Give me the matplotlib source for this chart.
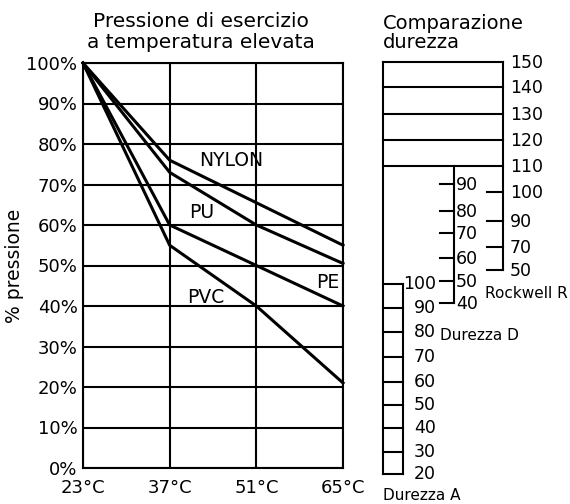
import matplotlib
matplotlib.use("Agg")
import matplotlib.pyplot as plt

plt.rcParams['font.family'] = ['DejaVu Sans']

# pressure derating vs temperature
temps = [23, 37, 51, 65]
temp_labels = ['23°C', '37°C', '51°C', '65°C']
nylon = [100, 76, 65.5, 55]
pu = [100, 73, 60, 50.5]
pe = [100, 60, 50, 40]
pvc = [100, 55, 40, 21]
pct_ticks = list(range(0, 101, 10))

# curve labels: (text, temp, pressure)
curve_labels = [('NYLON', 47.0, 76.0), ('PU', 42.2, 63.0),
                ('PE', 62.6, 45.8), ('PVC', 42.9, 42.0)]

# hardness comparison scales
rockwell_r = [150, 140, 130, 120, 110, 100, 90, 70, 50]
durezza_d = [90, 80, 70, 60, 50, 40]
durezza_a = [100, 90, 80, 70, 60, 50, 40, 30, 20]

# vertical layout of the hardness scales (figure pixels from top)
r_pos = [62, 87, 114, 140, 166, 192, 221, 247, 270]
d_pos = [184, 211, 233, 258, 281, 303]
a_pos = [284, 308, 332, 357, 382, 405, 428, 452, 474]

W, H = 570, 504
fig = plt.figure(figsize=(W / 100, H / 100), dpi=100)

ax = fig.add_axes([83 / W, 1 - 468 / H, 260 / W, 405 / H])
for series in (nylon, pu, pe, pvc):
    ax.plot(temps, series, color='black', lw=2.2, solid_joinstyle='miter', clip_on=False)
for txt, tx, ty in curve_labels:
    ax.text(tx, ty, txt, ha='center', va='center', fontsize=13.5)

ax.set_xlim(23, 65)
ax.set_ylim(0, 100)
ax.set_xticks(temps)
ax.set_xticklabels(temp_labels)
ax.set_yticks(pct_ticks)
ax.set_yticklabels([f'{p}%' for p in pct_ticks])
ax.grid(True, color='black', lw=1.5)
ax.tick_params(length=0, labelsize=13)
ax.tick_params(axis='x', pad=8)
ax.tick_params(axis='y', pad=4)
for s in ax.spines.values():
    s.set_linewidth(1.5)
ax.set_ylabel('% pressione', fontsize=13.5, labelpad=2)

fig.text(201 / W, 1 - 12 / H, 'Pressione di esercizio\na temperatura elevata',
         ha='center', va='top', fontsize=14.5, linespacing=1.12)

# hardness diagram drawn in pixel coordinates
hx = fig.add_axes([0, 0, 1, 1])
hx.set_xlim(0, W)
hx.set_ylim(H, 0)
hx.axis('off')
hx.patch.set_alpha(0)
lw = 1.5
num_fs = 12.5

# Rockwell R
hx.plot([383, 383], [r_pos[0], a_pos[-1]], color='black', lw=lw)
hx.plot([503, 503], [r_pos[0], r_pos[-1]], color='black', lw=lw)
for v, y in zip(rockwell_r, r_pos):
    if v >= 110:
        hx.plot([383, 503], [y, y], color='black', lw=lw)
    else:
        hx.plot([487, 503], [y, y], color='black', lw=lw)
    hx.text(510, y + 1, str(v), ha='left', va='center', fontsize=num_fs)
hx.text(485, 294, 'Rockwell R', ha='left', va='center', fontsize=11)

# Durezza D
hx.plot([454, 454], [r_pos[4], d_pos[-1]], color='black', lw=lw)
for v, y in zip(durezza_d, d_pos):
    hx.plot([440, 454], [y, y], color='black', lw=lw)
    hx.text(456, y + 1, str(v), ha='left', va='center', fontsize=num_fs)
hx.text(440, 335, 'Durezza D', ha='left', va='center', fontsize=11)

# Durezza A
hx.plot([403, 403], [a_pos[0], a_pos[-1]], color='black', lw=lw)
for v, y in zip(durezza_a, a_pos):
    hx.plot([383, 403], [y, y], color='black', lw=lw)
    hx.text(436, y, str(v), ha='right', va='center', fontsize=num_fs)
hx.text(383, 495, 'Durezza A', ha='left', va='center', fontsize=11)

fig.text(383 / W, 1 - 14 / H, 'Comparazione\ndurezza', ha='left', va='top',
         fontsize=14, linespacing=1.0)

fig.savefig('out.png', dpi=100)
